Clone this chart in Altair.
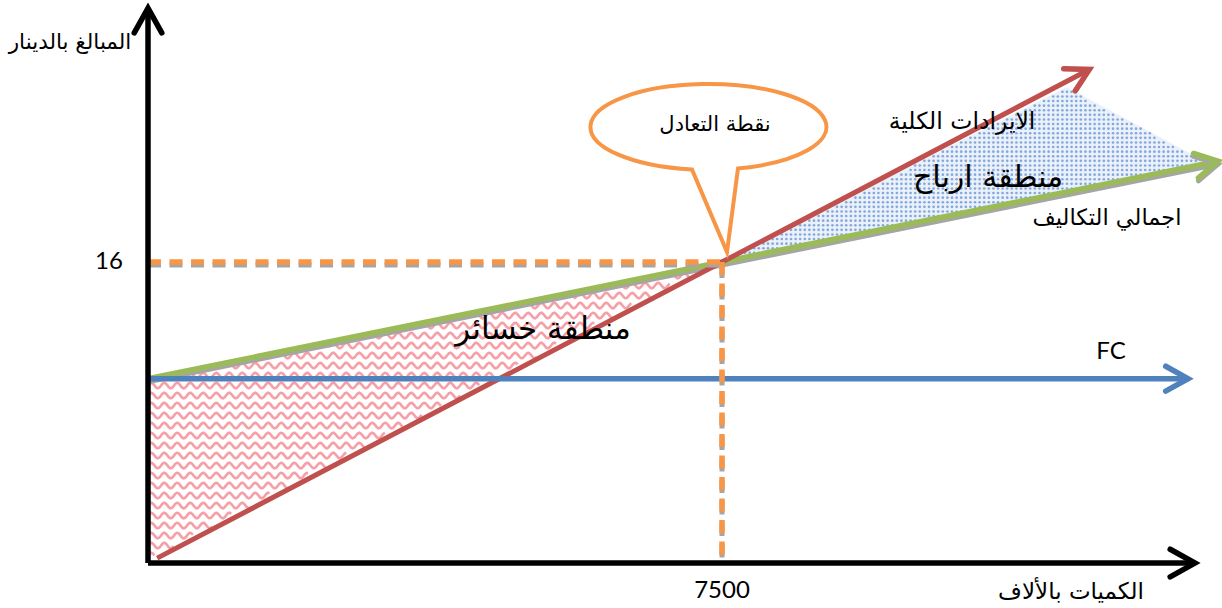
import math
import altair as alt
import pandas as pd

# ---- drawing frame -------------------------------------------------------
W, H = 1222, 608
X_DOMAIN = [-1934, 14033]     # quantity (thousands)
Y_DOMAIN = [-2.39, 29.93]     # amount (dinars)
PX_Q = W / (X_DOMAIN[1] - X_DOMAIN[0])   # pixels per quantity unit
PX_V = H / (Y_DOMAIN[1] - Y_DOMAIN[0])   # pixels per dinar

# ---- values --------------------------------------------------------------
BE_Q, BE_V = 7500, 16          # break-even point
FIXED = 9.8                    # fixed cost level

rev_q = [120, 7500, 12300]     # total revenue
rev_v = [0.26, 16, 26.24]
tc_q = [0, 7500, 13980]        # total cost
tc_v = [9.8, 16, 21.36]
fc_q = [0, 13590]              # fixed cost
fc_v = [9.8, 9.8]

loss_q = [0, 7500]             # loss zone (between cost and revenue)
loss_top = [9.8, 16]
loss_bottom = [0, 16]

profit_q = [7500, 12000, 13746]  # profit zone
profit_top = [16, 25.3, 21.5]
profit_bottom = [16, 19.72, 21.2]

axis_y_top = 29.5
axis_x_end = 13680

# ---- colours -------------------------------------------------------------
RED = "#C0504D"
GREEN = "#9BBB59"
BLUE = "#4F81BD"
ORANGE = "#F79646"
GREY = "#A5A5A5"
BLACK = "#000000"
PINK = "#F59AA2"
DOT = "#79A0D8"
TINT = "#EBF1FA"

AR_FONT = "DejaVu Sans"
NUM_FONT = "Lato"

xs = alt.Scale(domain=X_DOMAIN, nice=False, zero=False)
ys = alt.Scale(domain=Y_DOMAIN, nice=False, zero=False)
X = lambda f="x": alt.X(f"{f}:Q", scale=xs, axis=None)
Y = lambda f="y": alt.Y(f"{f}:Q", scale=ys, axis=None)


def seg_df(qs, vs):
    return pd.DataFrame({"x": qs, "y": vs, "o": range(len(qs))})


def lin_expr(qs, vs, var="datum.x"):
    """Piecewise-linear expression through the given points."""
    segs = []
    for i in range(len(qs) - 1):
        s = (vs[i + 1] - vs[i]) / (qs[i + 1] - qs[i])
        segs.append((qs[i + 1], f"({vs[i]} + ({var} - {qs[i]}) * {s:.9f})"))
    expr = segs[-1][1]
    for qb, e in reversed(segs[:-1]):
        expr = f"({var} <= {qb} ? {e} : {expr})"
    return expr


def angle_of(q0, v0, q1, v1):
    a = math.degrees(math.atan2(-(v1 - v0) * PX_V, (q1 - q0) * PX_Q))
    return a % 360


def line(qs, vs, color, width, **kw):
    return alt.Chart(seg_df(qs, vs)).mark_line(
        color=color, strokeWidth=width, strokeCap="butt", **kw
    ).encode(x=X(), y=Y(), order="o:Q")


# ---- loss zone: wavy pink texture ----------------------------------------
ROW_PX, WAVE_PX, AMP_PX, STEP_PX = 10, 13, 2.8, 1.6
n_cols = int((loss_q[1] - loss_q[0]) * PX_Q / STEP_PX) + 2
n_rows = int((max(loss_top) - min(loss_bottom)) * PX_V / ROW_PX) + 2
m_wave = (AMP_PX + 0.5) / PX_V
waves = (
    alt.Chart(alt.sequence(0, n_rows * n_cols, as_="i"))
    .transform_calculate(row=f"floor(datum.i / {n_cols})")
    .transform_calculate(col=f"datum.i % {n_cols}")
    .transform_calculate(x=f"{loss_q[0]} + datum.col * {STEP_PX / PX_Q}")
    .transform_calculate(base=f"{max(loss_top)} - (datum.row + 0.35) * {ROW_PX / PX_V}")
    .transform_filter(
        f"datum.base < {lin_expr(loss_q, loss_top)} - {m_wave} && "
        f"datum.base > {lin_expr(loss_q, loss_bottom)} + {m_wave}"
    )
    .transform_calculate(
        y=f"datum.base + {AMP_PX / PX_V} * sin(2 * PI * datum.col * {STEP_PX} / {WAVE_PX})"
    )
    .mark_line(color=PINK, strokeWidth=2.6, opacity=0.95)
    .encode(x=X(), y=Y(), detail="row:O", order="col:Q")
)

# ---- profit zone: dotted blue texture ------------------------------------
DOT_PX = 4.6
d_cols = int((profit_q[-1] - profit_q[0]) * PX_Q / DOT_PX) + 2
d_rows = int((max(profit_top) - min(profit_bottom)) * PX_V / DOT_PX) + 2
m_dot = 1.5 / PX_V
tint = alt.Chart(
    pd.DataFrame({"x": profit_q, "y": profit_top, "y2": profit_bottom})
).mark_area(color=TINT, opacity=1).encode(x=X(), y=Y(), y2="y2:Q")
dots = (
    alt.Chart(alt.sequence(0, d_rows * d_cols, as_="i"))
    .transform_calculate(x=f"{profit_q[0]} + (datum.i % {d_cols}) * {DOT_PX / PX_Q}")
    .transform_calculate(y=f"{min(profit_bottom)} + floor(datum.i / {d_cols}) * {DOT_PX / PX_V}")
    .transform_filter(
        f"datum.x >= {profit_q[0]} && datum.x <= {profit_q[-1]} && "
        f"datum.y < {lin_expr(profit_q, profit_top)} - {m_dot} && "
        f"datum.y > {lin_expr(profit_q, profit_bottom)} + {m_dot}"
    )
    .mark_point(shape="circle", filled=True, color=DOT, size=7, opacity=0.9)
    .encode(x=X(), y=Y())
)

# ---- lines ---------------------------------------------------------------
tc_shadow = line(tc_q, tc_v, GREY, 5, yOffset=3)
tc_line = line(tc_q, tc_v, GREEN, 5.5)
rev_line = line(rev_q, rev_v, RED, 5)
fc_line = line(fc_q, fc_v, BLUE, 5.5)

dash_h = [0, BE_Q], [BE_V, BE_V]
dash_v = [BE_Q, BE_Q], [BE_V, 0]
dashes = [
    line(*dash_h, GREY, 5, strokeDash=[13, 8.5], yOffset=3),
    line(*dash_v, GREY, 5, strokeDash=[13, 8.5], yOffset=3),
    line(*dash_h, ORANGE, 5.5, strokeDash=[13, 8.5]),
    line(*dash_v, ORANGE, 5.5, strokeDash=[13, 8.5]),
]

axis_y = line([0, 0], [0, axis_y_top], BLACK, 5.5)
axis_x = line([0, axis_x_end], [0, 0], BLACK, 5.5)

# ---- arrow heads ---------------------------------------------------------
CHEVRON = "M-1.8,-1L0,0L-1.8,1"
heads = pd.DataFrame(
    {
        "x": [0, axis_x_end, rev_q[-1], tc_q[-1], fc_q[-1], tc_q[-1]],
        "y": [axis_y_top, 0, rev_v[-1], tc_v[-1], fc_v[-1], tc_v[-1]],
        "angle": [
            270,
            0,
            angle_of(rev_q[1], rev_v[1], rev_q[2], rev_v[2]),
            angle_of(tc_q[1], tc_v[1], tc_q[2], tc_v[2]),
            0,
            angle_of(tc_q[1], tc_v[1], tc_q[2], tc_v[2]),
        ],
        "color": [BLACK, BLACK, RED, GREEN, BLUE, GREY],
        "size": [760, 760, 620, 620, 620, 620],
        "dy": [0, 0, 0, 0, 0, 3],
    }
)
shadow_head = alt.Chart(heads[heads.dy > 0]).mark_point(
    shape=CHEVRON, filled=False, strokeWidth=5, opacity=1,
    strokeCap="round", strokeJoin="miter", yOffset=3,
).encode(
    x=X(), y=Y(),
    angle=alt.Angle("angle:Q", scale=None),
    stroke=alt.Stroke("color:N", scale=None),
    size=alt.Size("size:Q", scale=None),
)
arrow_heads = alt.Chart(heads[heads.dy == 0]).mark_point(
    shape=CHEVRON, filled=False, strokeWidth=5.5, opacity=1,
    strokeCap="round", strokeJoin="miter",
).encode(
    x=X(), y=Y(),
    angle=alt.Angle("angle:Q", scale=None),
    stroke=alt.Stroke("color:N", scale=None),
    size=alt.Size("size:Q", scale=None),
)

# ---- break-even call-out -------------------------------------------------
BUBBLE = "M-0.136,0.36A1,0.364 0 1,1 0.254,0.352L0.161,1.06Z"
bubble = alt.Chart(pd.DataFrame({"x": [7317], "y": [23.18]})).mark_point(
    shape=BUBBLE, size=55696, filled=True, fill="white", stroke=ORANGE,
    strokeWidth=4, opacity=1, fillOpacity=1, strokeJoin="miter",
).encode(x=X(), y=Y())

# ---- texts ---------------------------------------------------------------
labels = pd.DataFrame(
    {
        "x": [-1019, 12060, 10636, 12530, 10976, 5161, 7409],
        "y": [27.64, -1.54, 23.44, 18.34, 20.47, 12.39, 23.28],
        "text": [
            "المبالغ بالدينار",
            "الكميات بالألاف",
            "الايرادات الكلية",
            "اجمالي التكاليف",
            "منطقة ارباح",
            "منطقة خسائر",
            "نقطة التعادل",
        ],
        "fs": [21.5, 23, 23.5, 22.5, 30, 31, 21],
    }
)
ar_text = alt.Chart(labels).mark_text(
    font=AR_FONT, color=BLACK, align="center", baseline="middle"
).encode(x=X(), y=Y(), text="text:N", size=alt.Size("fs:Q", scale=None))

nums = pd.DataFrame(
    {
        "x": [-510, BE_Q, 12583],
        "y": [BE_V, -1.49, 11.22],
        "text": ["16", "7500", "FC"],
    }
)
num_text = alt.Chart(nums).mark_text(
    font=NUM_FONT, fontSize=24, color=BLACK, align="center", baseline="middle"
).encode(x=X(), y=Y(), text="text:N")

chart = alt.layer(
    tint, dots, waves,
    tc_shadow, tc_line, rev_line, fc_line,
    *dashes,
    axis_y, axis_x, shadow_head, arrow_heads,
    bubble, ar_text, num_text,
).properties(
    width=W, height=H, padding=0, autosize=alt.AutoSizeParams(type="none"),
    background="white",
).configure_view(stroke=None)

chart.save("out.html", embed_options={"renderer": "svg", "actions": False})
